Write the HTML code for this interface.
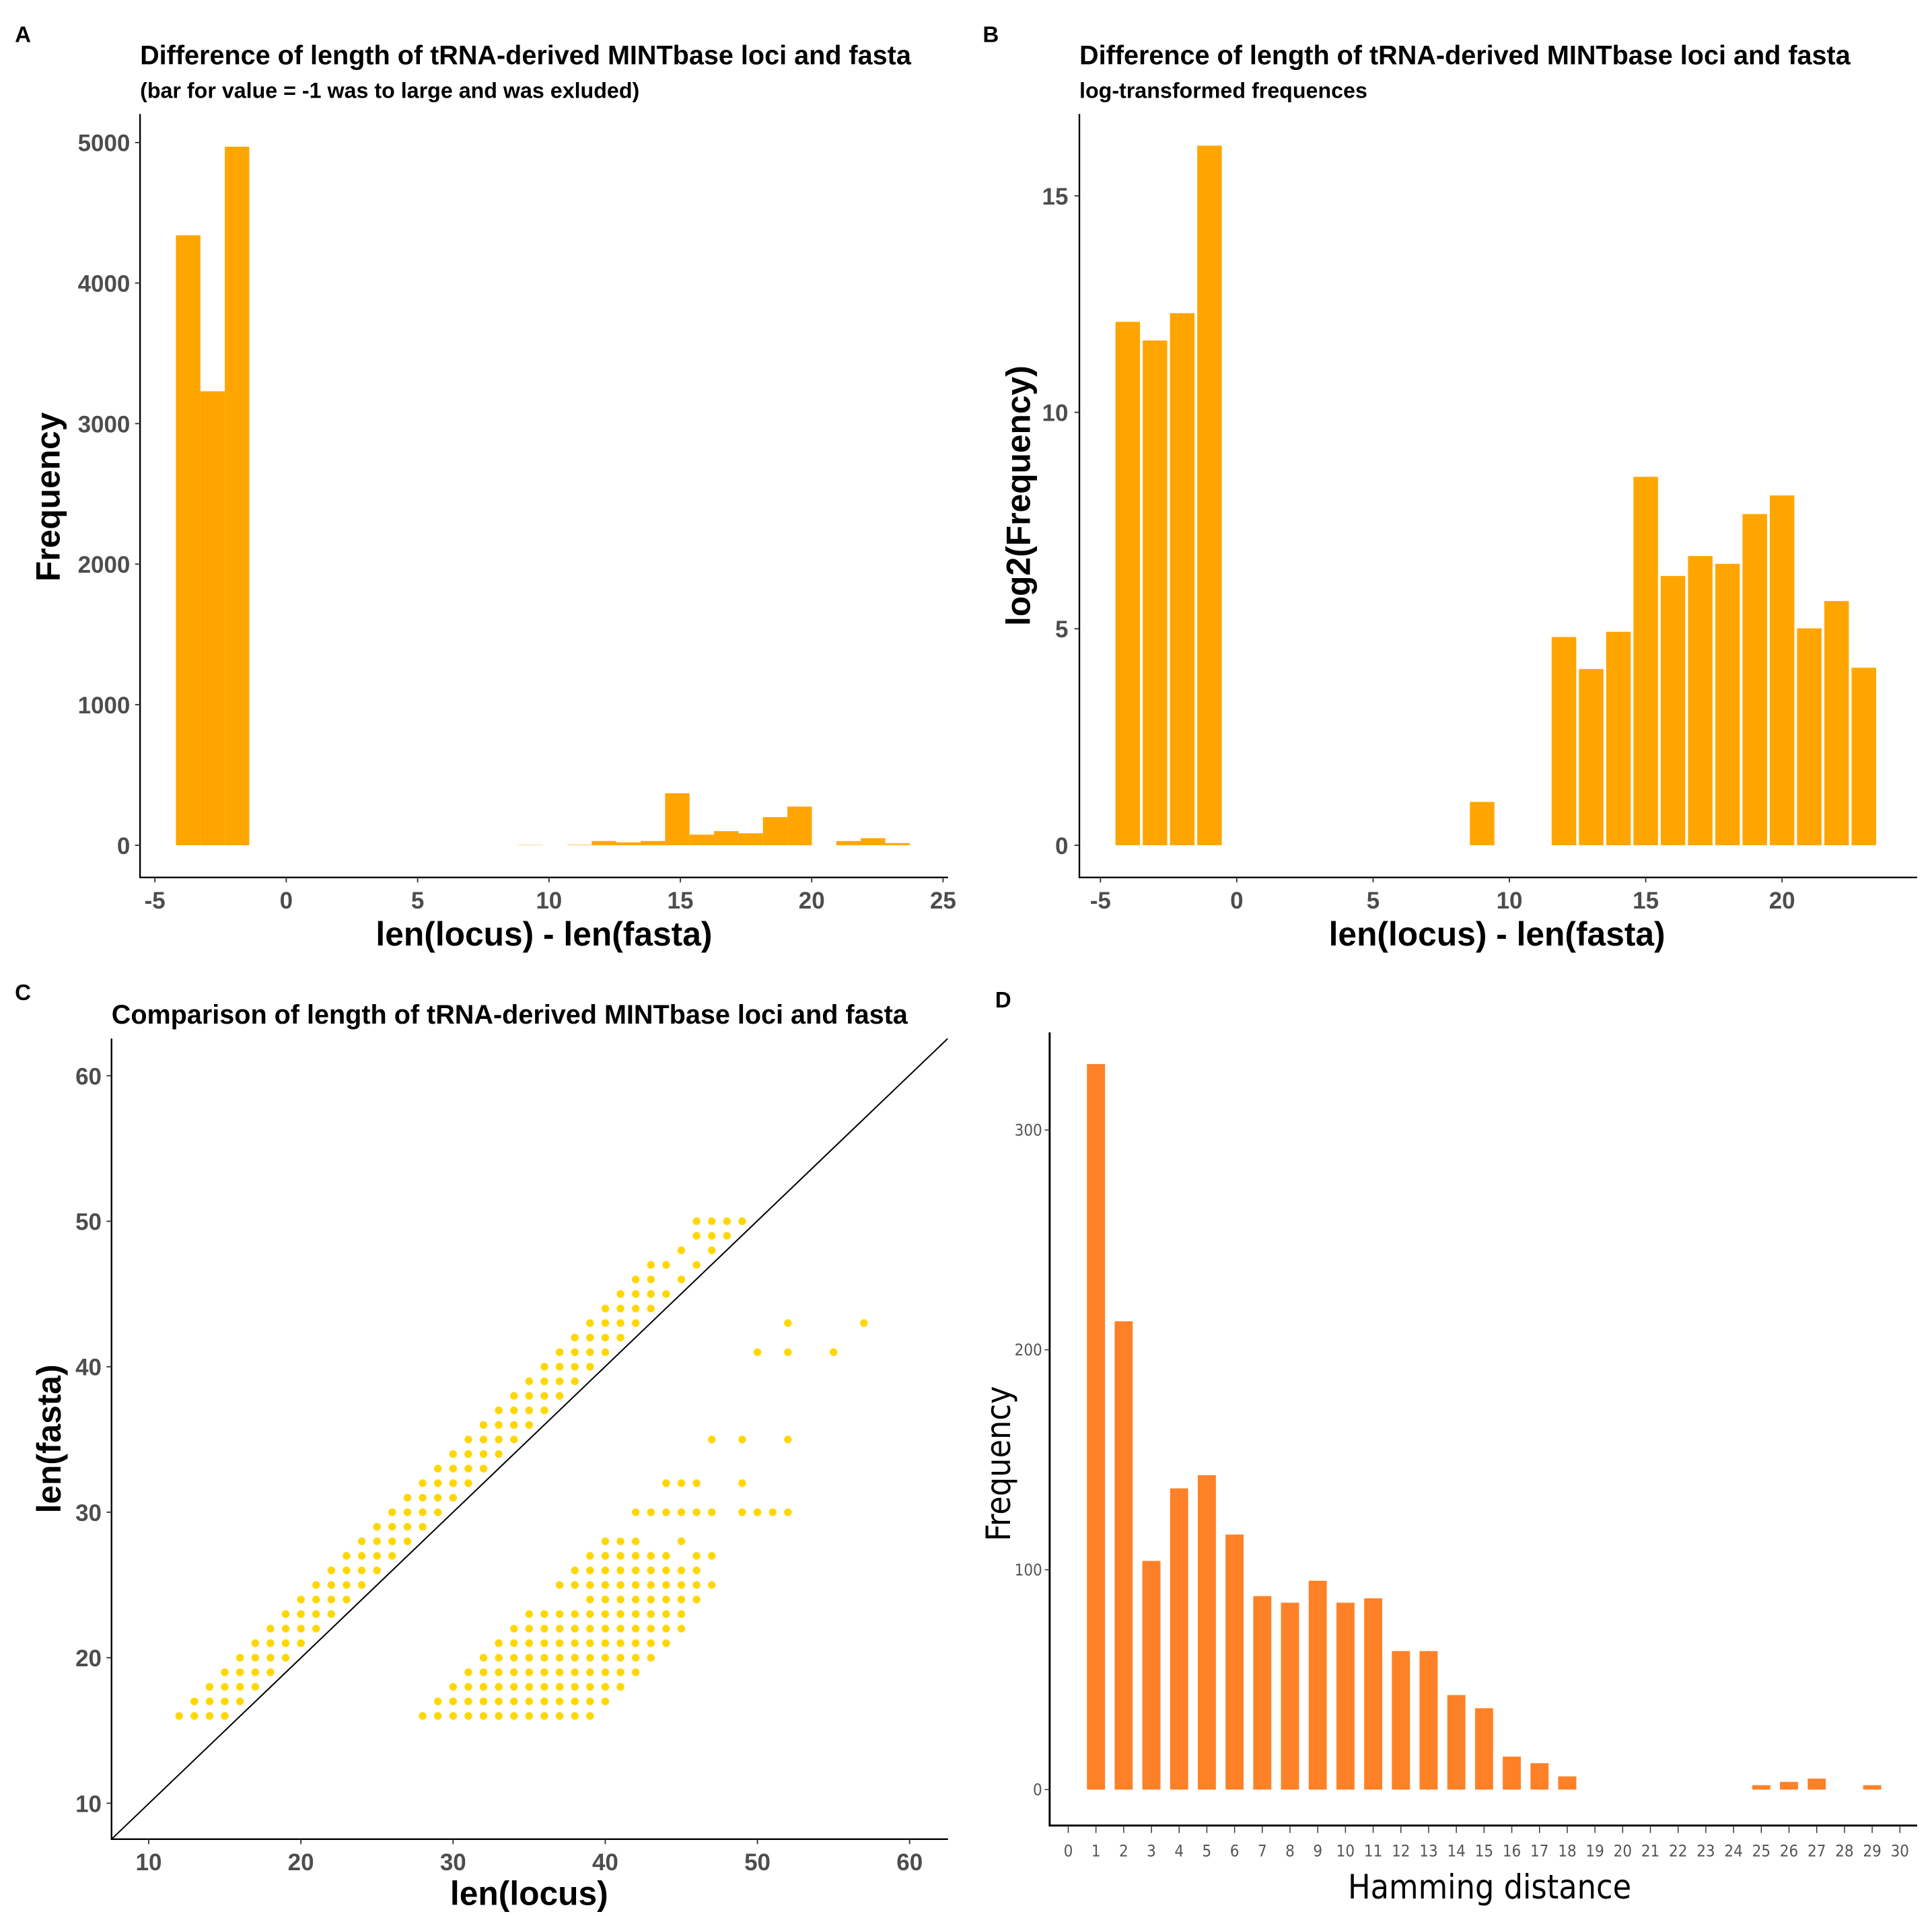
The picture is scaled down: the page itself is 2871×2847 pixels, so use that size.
<!DOCTYPE html>
<html><head><meta charset="utf-8"><style>
html,body{margin:0;padding:0;background:#fff;}
svg{display:block;}
.b{font-family:"Liberation Sans",sans-serif;font-weight:bold;}
.n{font-family:"Liberation Sans Narrow","DejaVu Sans Condensed","Liberation Sans",sans-serif;}
</style></head><body>
<svg id="fig" width="2871" height="2847" viewBox="0 0 1559 1546" preserveAspectRatio="none" xmlns="http://www.w3.org/2000/svg">
<rect width="1559" height="1546" fill="#fff"/>
<g class="b" fill="#000">
<text x="12" y="34" font-size="18">A</text>
<text x="113" y="52" font-size="21.5">Difference of length of tRNA-derived MINTbase loci and fasta</text>
<text x="113" y="79" font-size="17.5">(bar for value = -1 was to large and was exluded)</text>
<text x="793" y="34" font-size="18">B</text>
<text x="871" y="52" font-size="21.5">Difference of length of tRNA-derived MINTbase loci and fasta</text>
<text x="871" y="79" font-size="17.5">log-transformed frequences</text>
<text x="12" y="807" font-size="18">C</text>
<text x="90" y="826" font-size="21.5">Comparison of length of tRNA-derived MINTbase loci and fasta</text>
<text x="803" y="813" font-size="18">D</text>
</g>
<g id="pa"></g><g id="pb"></g><g id="pc"></g><g id="pd"></g>
</svg>
<script>
// Panel A histogram (30 bins)
const binsA = [0,1,2,3,4,5,6,7,8,9,10,11,12,13,14,15,16,17,18,19,20,21,22,23,24,25,26,27,28,29];
const freqA = [4340,3230,4970,0,0,0,0,0,0,0,0,0,0,0,2,0,3,30,20,30,370,75,100,85,200,275,0,30,50,15];
const ticksAx = [-5,0,5,10,15,20,25];
const ticksAy = [0,1000,2000,3000,4000,5000];
// Panel B
const catsB = [-4,-3,-2,-1,9,12,13,14,15,16,17,18,19,20,21,22,23];
const valsB = [12.09,11.66,12.29,16.16,1.0,4.81,4.07,4.93,8.51,6.22,6.68,6.5,7.65,8.08,5.01,5.64,4.1];
const ticksBx = [-5,0,5,10,15,20];
const ticksBy = [0,5,10,15];
// Panel C: upper band (locus, fasta list)
const upperX = [12,13,14,15,16,17,18,19,20,21,22,23,24,25,26,27,28,29,30,31,32,33,34,35,36,37,38,39,40,41,42,43,44,45,46,47,48,49];
const upperY = [[16],[16,17],[16,17,18],[16,17,18,19],[17,18,19,20],[18,19,20,21],[19,20,21,22],[20,21,22,23],[21,22,23,24],[22,23,24,25],[23,24,25,26],[24,25,26,27],[25,26,27,28],[26,27,28,29],[27,28,29,30],[28,29,30,31],[29,30,31,32],[30,31,32,33],[31,32,33,34],[32,33,34,35],[33,34,35,36],[34,35,36,37],[35,36,37,38],[36,37,38,39],[37,38,39,40],[38,39,40,41],[39,40,41,42],[40,41,42,43],[41,42,43,44],[42,43,44,45],[43,44,45,46],[44,45,46,47],[45,47],[46,48],[47,49,50],[48,49,50],[49,50],[50]];
// lower band by fasta row: locus lists
const lowerY = [16,17,18,19,20,21,22,23,24,25,26,27,28,30,32,35,41,43];
const lowerX = [
[28,29,30,31,32,33,34,35,36,37,38,39],
[29,30,31,32,33,34,35,36,37,38,39,40],
[30,31,32,33,34,35,36,37,38,39,40,41],
[31,32,33,34,35,36,37,38,39,40,41,42],
[32,33,34,35,36,37,38,39,40,41,42,43],
[33,34,35,36,37,38,39,40,41,42,43,44],
[34,35,36,37,38,39,40,41,42,43,44,45],
[35,36,37,38,39,40,41,42,43,44,45],
[39,40,41,42,43,44,45,46],
[37,38,39,40,41,42,43,44,45,46,47],
[38,39,40,41,42,43,44,45,46],
[39,40,41,42,43,44,46,47],
[40,41,42,45],
[42,43,44,45,46,47,49,50,51,52],
[44,45,46,49],
[47,49,52],
[50,52,55],
[52,57]];
const ticksC = [10,20,30,40,50,60];
// Panel D
const catsD = [1,2,3,4,5,6,7,8,9,10,11,12,13,14,15,16,17,18,25,26,27,29];
const valsD = [330,213,104,137,143,116,88,85,95,85,87,63,63,43,37,15,12,6,2,3.5,5,2];
const ticksDx = [0,1,2,3,4,5,6,7,8,9,10,11,12,13,14,15,16,17,18,19,20,21,22,23,24,25,26,27,28,29,30];
const ticksDy = [0,100,200,300];

const NS='http://www.w3.org/2000/svg';
function mk(parent,tag,at,txt){const e=document.createElementNS(NS,tag);for(const k in at)e.setAttribute(k,at[k]);if(txt!==undefined)e.textContent=txt;parent.appendChild(e);return e;}

// ---------- A ----------
(function(){
const g=document.getElementById('pa');
const X=v=>231+v*21.2, Y=v=>682-v*0.1134;
binsA.forEach((k,i)=>{const l=-4.2+0.931*k;if(freqA[i]<=0)return;
 const r=mk(g,'rect',{x:X(l),y:Y(freqA[i]),width:0.931*21.2,height:Y(0)-Y(freqA[i]),fill:'#FFA500'});
 
 });
const ax=mk(g,'path',{d:'M113 92V708H765',stroke:'#000','stroke-width':1.3,fill:'none'});


ticksAx.forEach(t=>{mk(g,'line',{x1:X(t),x2:X(t),y1:708,y2:712,stroke:'#333'});
 const e=mk(g,'text',{x:X(t),y:733,'text-anchor':'middle','font-size':19,fill:'#4d4d4d',class:'b'},t);
 
 });
ticksAy.forEach(t=>{mk(g,'line',{x1:109,x2:113,y1:Y(t),y2:Y(t),stroke:'#333'});
 const e=mk(g,'text',{x:105,y:Y(t)+7,'text-anchor':'end','font-size':19,fill:'#4d4d4d',class:'b'},t);
 
 });
let e=mk(g,'text',{x:439,y:763,'text-anchor':'middle','font-size':27,class:'b'},'len(locus) - len(fasta)');


e=mk(g,'text',{x:48,y:401,'text-anchor':'middle','font-size':27,class:'b',transform:'rotate(-90 48 401)'},'Frequency');


})();

// ---------- B ----------
(function(){
const g=document.getElementById('pb');
const X=v=>998+v*22, Y=v=>682-v*34.93;
catsB.forEach((c,i)=>{
 const r=mk(g,'rect',{x:X(c)-9.9,y:Y(valsB[i]),width:19.8,height:Y(0)-Y(valsB[i]),fill:'#FFA500'});
 
 });
const ax=mk(g,'path',{d:'M871 92V708H1547',stroke:'#000','stroke-width':1.3,fill:'none'});


ticksBx.forEach(t=>{mk(g,'line',{x1:X(t),x2:X(t),y1:708,y2:712,stroke:'#333'});
 const e=mk(g,'text',{x:X(t),y:733,'text-anchor':'middle','font-size':19,fill:'#4d4d4d',class:'b'},t);
 
 });
ticksBy.forEach(t=>{mk(g,'line',{x1:867,x2:871,y1:Y(t),y2:Y(t),stroke:'#333'});
 const e=mk(g,'text',{x:862,y:Y(t)+7,'text-anchor':'end','font-size':19,fill:'#4d4d4d',class:'b'},t);
 
 });
let e=mk(g,'text',{x:1208,y:763,'text-anchor':'middle','font-size':27,class:'b'},'len(locus) - len(fasta)');


e=mk(g,'text',{x:831,y:400,'text-anchor':'middle','font-size':27,class:'b',transform:'rotate(-90 831 400)'},'log2(Frequency)');


})();

// ---------- C ----------
(function(){
const g=document.getElementById('pc');
const X=v=>120+(v-10)*12.28, Y=v=>1455-(v-10)*11.74;
const ln=mk(g,'line',{x1:X(7.56),y1:Y(7.53),x2:X(62.5),y2:Y(62.55),stroke:'#000','stroke-width':1.1});


upperX.forEach((x,i)=>upperY[i].forEach(y=>{
 const c=mk(g,'circle',{cx:X(x),cy:Y(y),r:3.1,fill:'#FFD700'});
 
 }));
lowerY.forEach((y,i)=>lowerX[i].forEach(x=>{
 const c=mk(g,'circle',{cx:X(x),cy:Y(y),r:3.1,fill:'#FFD700'});
 
 }));
const ax=mk(g,'path',{d:'M90 838V1484H765',stroke:'#000','stroke-width':1.3,fill:'none'});


ticksC.forEach(t=>{mk(g,'line',{x1:X(t),x2:X(t),y1:1484,y2:1488,stroke:'#333'});
 let e=mk(g,'text',{x:X(t),y:1509,'text-anchor':'middle','font-size':19,fill:'#4d4d4d',class:'b'},t);
 
 
 mk(g,'line',{x1:86,x2:90,y1:Y(t),y2:Y(t),stroke:'#333'});
 e=mk(g,'text',{x:82,y:Y(t)+7,'text-anchor':'end','font-size':19,fill:'#4d4d4d',class:'b'},t);
 
 });
let e=mk(g,'text',{x:427,y:1537,'text-anchor':'middle','font-size':27,class:'b'},'len(locus)');


e=mk(g,'text',{x:49,y:1161,'text-anchor':'middle','font-size':27,class:'b',transform:'rotate(-90 49 1161)'},'len(fasta)');


})();

// ---------- D ----------
(function(){
const g=document.getElementById('pd');
const X=v=>862+v*22.37, Y=v=>1444-v*1.774;
catsD.forEach((c,i)=>{
 const r=mk(g,'rect',{x:X(c)-7.3,y:Y(valsD[i]),width:14.6,height:Y(0)-Y(valsD[i]),fill:'#FE8128'});
 
 });
const ax=mk(g,'path',{d:'M847 833V1473H1547',stroke:'#000','stroke-width':1.6,fill:'none'});


ticksDx.forEach(t=>{mk(g,'line',{x1:X(t),x2:X(t),y1:1473,y2:1479,stroke:'#333','stroke-width':0.8});
 const e=mk(g,'text',{x:X(t),y:1498,'text-anchor':'middle','font-size':13,fill:'#555',class:'n'},t);
 
 });
ticksDy.forEach(t=>{mk(g,'line',{x1:843,x2:847,y1:Y(t),y2:Y(t),stroke:'#333','stroke-width':0.8});
 const e=mk(g,'text',{x:841,y:Y(t)+4.5,'text-anchor':'end','font-size':13,fill:'#555',class:'n'},t);
 
 });
let e=mk(g,'text',{x:1202,y:1532,'text-anchor':'middle','font-size':27,class:'n'},'Hamming distance');


e=mk(g,'text',{x:815,y:1181,'text-anchor':'middle','font-size':27,class:'n',transform:'rotate(-90 815 1181)'},'Frequency');


})();
</script>
</body></html>
